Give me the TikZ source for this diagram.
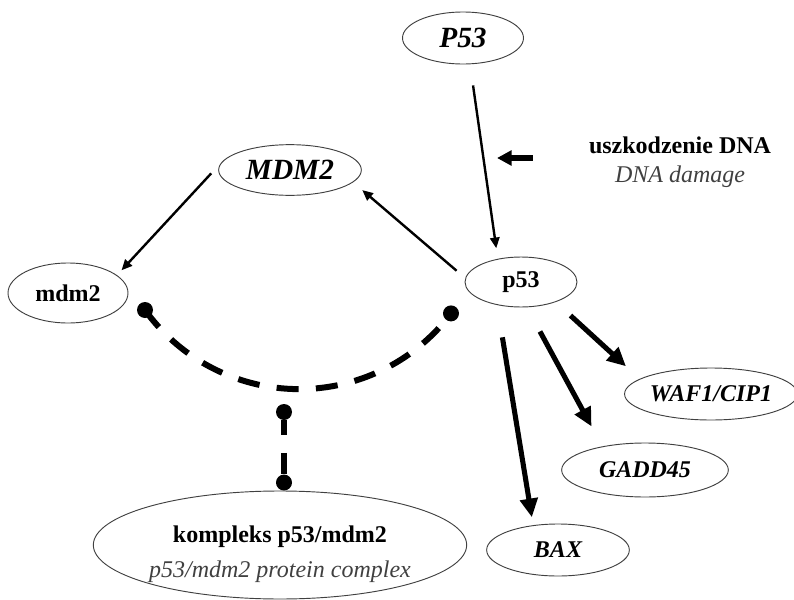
\documentclass[tikz,border=0pt]{standalone}
\usepackage{fontspec}
\setmainfont{Liberation Serif}
\usetikzlibrary{shapes.geometric,arrows.meta}

\tikzset{
  gene/.style={ellipse,draw=black!75,line width=0.7pt,inner sep=0pt,font=\fontsize{18}{22}\selectfont\bfseries\itshape},
  biggene/.style={gene,font=\fontsize{22}{26}\selectfont\bfseries\itshape},
  prot/.style={ellipse,draw=black!75,line width=0.7pt,inner sep=0pt,font=\fontsize{18}{22}\selectfont\bfseries},
  thinarr/.style={-{Triangle[length=8pt,width=7pt]},line width=1.8pt},
  fatarr/.style={-{Triangle[length=14pt,width=13pt]},line width=3.8pt},
  dnaarr/.style={-{Triangle[length=11pt,width=11pt]},line width=4pt},
  bond/.style={line width=4.5pt},
  knob/.style={circle,fill,inner sep=0pt,minimum size=12pt},
}

\begin{document}
\begin{tikzpicture}[x=0.75pt,y=-0.75pt]
          %canvas
          \useasboundingbox (0,0) rectangle (794,600);

          %genes and proteins
          \node[biggene,minimum width=90.75pt,minimum height=39pt] (geneP) at (463,38) {P53};
          \node[biggene,minimum width=107pt,minimum height=38pt] (geneM) at (290,170) {MDM2};
          \node[prot,minimum width=84pt,minimum height=37.5pt] (protP) at (521,282) {p53};
          \node[prot,minimum width=90pt,minimum height=45pt] (protM) at (68,293) {mdm2};
          \node[gene,minimum width=124.5pt,minimum height=39pt] (waf) at (711,394) {WAF1/CIP1};
          \node[gene,minimum width=125pt,minimum height=40.5pt] (gadd) at (645,470) {GADD45};
          \node[gene,minimum width=107pt,minimum height=39pt] (bax) at (558,550) {BAX};
          \node[ellipse,draw=black!75,line width=0.7pt,inner sep=0pt,minimum width=280pt,minimum height=81pt,
                align=center,font=\fontsize{18}{26}\selectfont] (cplx) at (280,545)
                {\rule{0pt}{26pt}\bfseries kompleks p53/mdm2\\{\itshape\color{black!75}p53/mdm2 protein complex}};
          \node[inner sep=0pt,align=center,font=\fontsize{18}{22}\selectfont] (dmg) at (680,162)
                {\bfseries uszkodzenie DNA\\{\itshape\color{black!75}DNA damage}};

          %regulation
          \draw[thinarr,shorten <=16pt,shorten >=8pt] (geneP.-75) -- (protP.135);
          \draw[thinarr,shorten <=12pt,shorten >=5pt] (geneM.173) -- (protM.20);
          \draw[thinarr,shorten <=8.5pt,shorten >=9pt] (protP.176) -- (geneM.-11);
          \coordinate (hit) at (497,158);
          \draw[dnaarr,shorten <=42pt] (dmg.west |- hit) -- (hit);

          %targets of p53
          \draw[fatarr,shorten <=15pt,shorten >=14pt] (protP.-30) -- (waf.168);
          \draw[fatarr,shorten <=20.6pt,shorten >=17pt] (protP.-77) -- (gadd.151);
          \draw[fatarr,shorten <=24.5pt,shorten >=6pt] (protP.-136) -- (bax.135);

          %binding
          \node[knob] (kL) at (145,310) {};
          \node[knob] (kR) at (451,313.4) {};
          \node[knob] (kT) at (284,412) {};
          \node[knob] (kB) at ([xshift=3pt,yshift=6pt]cplx.north) {};
          \draw[bond,dash pattern=on 16.5pt off 13pt] (kL.center) arc[start angle=144.3,end angle=37,radius=190];
          \draw[bond,dash pattern=on 11pt off 13.5pt on 40pt] (kT) -- (kB);
\end{tikzpicture}
\end{document}
